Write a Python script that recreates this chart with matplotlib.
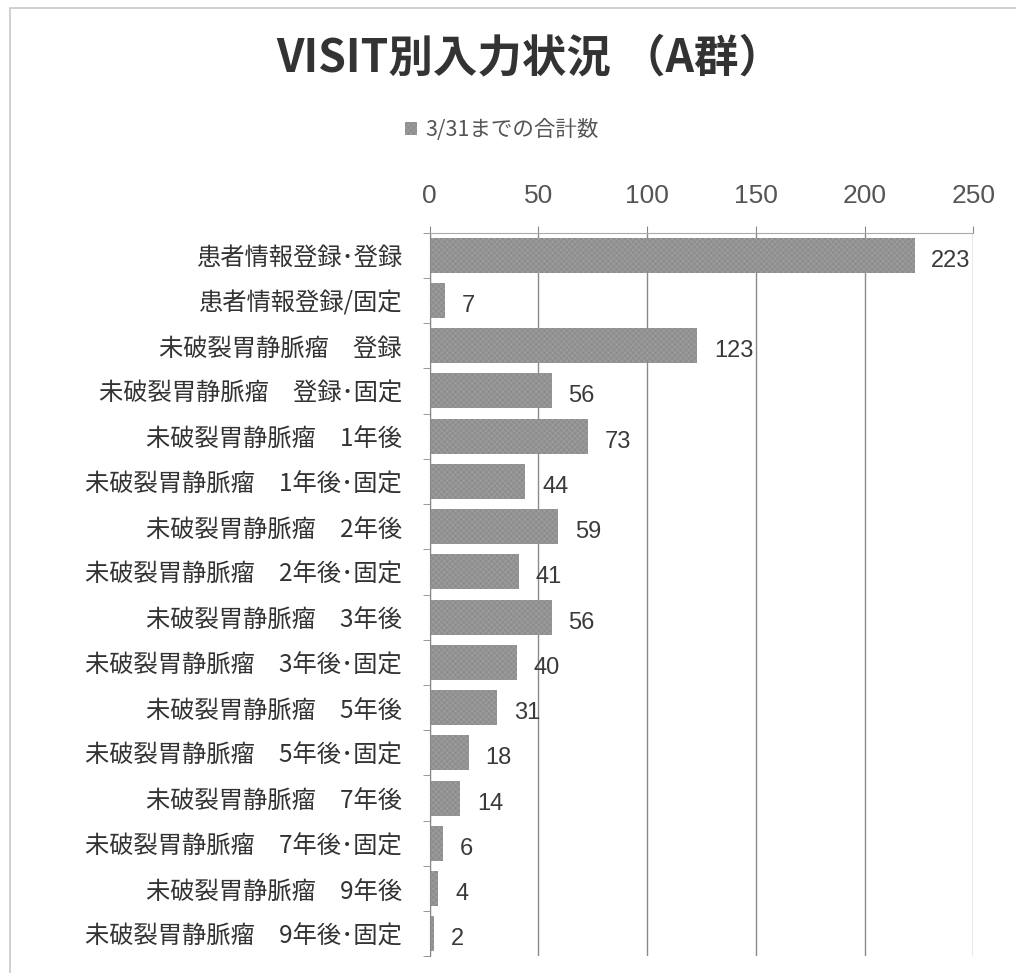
import matplotlib
matplotlib.use("Agg")
import matplotlib.pyplot as plt
from matplotlib.patches import Rectangle

plt.rcParams['font.family'] = ['Noto Sans CJK JP', 'DejaVu Sans']
plt.rcParams['hatch.linewidth'] = 0.4

# 入力件数（3/31まで）
categories = [
    '患者情報登録･登録',
    '患者情報登録/固定',
    '未破裂胃静脈瘤　登録',
    '未破裂胃静脈瘤　登録･固定',
    '未破裂胃静脈瘤　1年後',
    '未破裂胃静脈瘤　1年後･固定',
    '未破裂胃静脈瘤　2年後',
    '未破裂胃静脈瘤　2年後･固定',
    '未破裂胃静脈瘤　3年後',
    '未破裂胃静脈瘤　3年後･固定',
    '未破裂胃静脈瘤　5年後',
    '未破裂胃静脈瘤　5年後･固定',
    '未破裂胃静脈瘤　7年後',
    '未破裂胃静脈瘤　7年後･固定',
    '未破裂胃静脈瘤　9年後',
    '未破裂胃静脈瘤　9年後･固定',
]
counts = [223, 7, 123, 56, 73, 44, 59, 41, 56, 40, 31, 18, 14, 6, 4, 2]
series_name = '3/31までの合計数'
xticks = [0, 50, 100, 150, 200, 250]

fig = plt.figure(figsize=(10.16, 9.73), dpi=100)
ax = fig.add_axes([0.423, 0.017, 0.535, 0.744])

# 外枠（右と下ははみ出させる）
fig.patches.append(Rectangle((0.010, -0.05), 1.2, 1.042, transform=fig.transFigure,
                             fill=False, edgecolor='#c8c8c8', linewidth=1.2))

ypos = list(range(len(categories)))
bars = ax.barh(ypos, counts, height=0.77, color='#8e8e8e', edgecolor='#a3a3a3',
               hatch='xxxxxx', linewidth=0, label=series_name)

for y, v in zip(ypos, counts):
    ax.annotate(str(v), xy=(v, y), xytext=(12, -4), textcoords='offset points',
                va='center', ha='left', fontsize=17, color='#3a3a3a',
                family=['Liberation Sans', 'DejaVu Sans'])

ax.set_xlim(0, 250)
ax.set_ylim(len(categories) - 0.5, -0.5)
ax.set_xticks(xticks)
ax.xaxis.tick_top()
ax.tick_params(axis='x', length=5, pad=13, labelsize=19, labelcolor='#555555', color='#888888')
for lbl in ax.get_xticklabels():
    lbl.set_family(['Liberation Sans', 'DejaVu Sans'])
ax.set_yticks(ypos)
ax.set_yticklabels(categories, fontsize=17.5, color='#333333')
ax.set_yticks([i + 0.5 for i in range(-1, len(categories))], minor=True)
ax.tick_params(axis='y', which='major', length=0, pad=20)
ax.tick_params(axis='y', which='minor', length=5, color='#888888')

ax.grid(axis='x', color='#8a8a8a', linewidth=1.0)
ax.set_axisbelow(True)
for side in ['right', 'bottom']:
    ax.spines[side].set_visible(False)
ax.spines['top'].set_color('#aaaaaa')
ax.spines['left'].set_color('#888888')

fig.text(0.521, 0.94, 'VISIT別入力状況 （A群）', ha='center', va='center',
         fontsize=32, fontweight='bold', color='#333333')

leg = fig.legend(handles=[bars], labels=[series_name], loc='center',
                 bbox_to_anchor=(0.494, 0.866), frameon=False, fontsize=15.5,
                 handlelength=0.55, handleheight=0.55, handletextpad=0.4)
for t in leg.get_texts():
    t.set_color('#555555')

fig.savefig('out.png', dpi=100, facecolor='white')
